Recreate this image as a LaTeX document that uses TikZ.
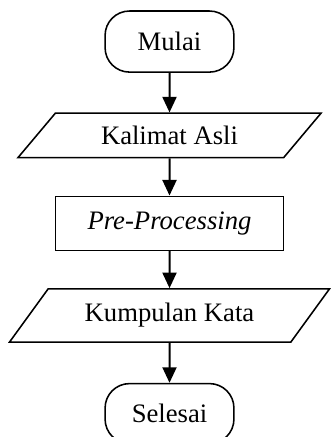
\documentclass[tikz,border=0pt]{standalone}
\usepackage{fontspec}
\setmainfont{Liberation Serif}
\usetikzlibrary{positioning, arrows.meta, shapes.geometric}
\tikzset{
  terminal/.style={draw, rounded corners=11pt, minimum width=58pt,
    minimum height=27.5pt, line width=0.7pt, font=\fontsize{12}{14}\selectfont},
  iobox/.style={draw, trapezium, trapezium stretches body, line width=0.7pt,
    font=\fontsize{12}{14}\selectfont, inner xsep=2pt, inner ysep=2pt},
  process/.style={draw, minimum width=102.6pt, minimum height=24.3pt,
    line width=0.7pt, font=\fontsize{12}{14}\selectfont},
  stdarrow/.style={-{Triangle[length=7pt, width=6.3pt]}, line width=0.9pt},
}
\begin{document}
\begin{tikzpicture}

  \useasboundingbox (-76.3pt,18.7pt) rectangle (72.7pt,-178pt);

  % === Start ===
  \node[terminal] (mulai) at (0,0) {Mulai};

  % === Input ===
  \node[iobox, below=17.8pt of mulai, trapezium left angle=36.5,
    trapezium right angle=143.5, minimum width=136.4pt,
    minimum height=20pt] (kalimat) {Kalimat Asli};

  % === Process ===
  \node[process, below=16.7pt of kalimat] (prepro) {\textit{Pre-Processing}};

  % === Output ===
  \node[iobox, below=16.7pt of prepro, trapezium left angle=40.6,
    trapezium right angle=139.4, minimum width=144pt,
    minimum height=23.9pt] (kumpulan) {Kumpulan Kata};

  % === End ===
  \node[terminal, below=18pt of kumpulan, minimum height=27pt] (selesai) {Selesai};

  % Arrows
  \draw[stdarrow] (mulai) -- (kalimat);
  \draw[stdarrow] (kalimat) -- (prepro);
  \draw[stdarrow] (prepro) -- (kumpulan);
  \draw[stdarrow] (kumpulan) -- (selesai);

\end{tikzpicture}
\end{document}
